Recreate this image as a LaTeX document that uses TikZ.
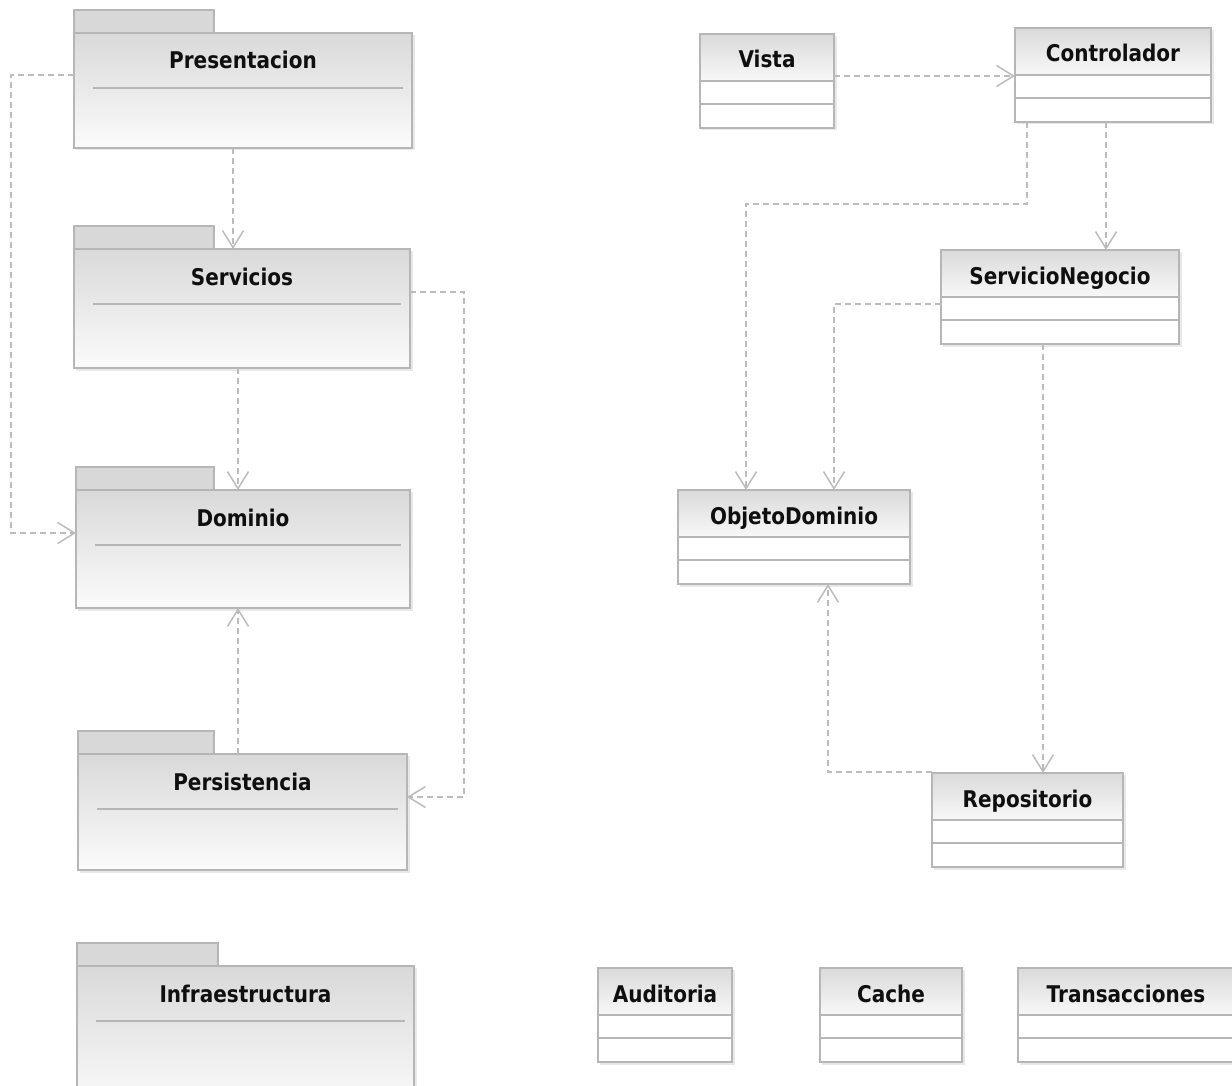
\documentclass[tikz,border=0pt]{standalone}
\usepackage{fontspec}
\newfontfamily\lblfont{DejaVu Sans}[FakeStretch=0.87]
\usetikzlibrary{arrows.meta,calc}

\definecolor{edgegray}{RGB}{182,182,182}
\definecolor{depgray}{RGB}{188,188,188}
\definecolor{tabgray}{RGB}{216,216,216}
\definecolor{bodytop}{RGB}{217,217,217}
\definecolor{bodybot}{RGB}{251,251,251}
\definecolor{hdtop}{RGB}{218,218,218}
\definecolor{hdbot}{RGB}{248,248,248}
\definecolor{shadowgray}{RGB}{232,232,232}
\definecolor{inkblack}{RGB}{15,15,15}

\tikzset{
  boxline/.style={draw=edgegray, line width=1.6pt},
  pkgbody/.style={rectangle, boxline, top color=bodytop, bottom color=bodybot,
                  inner sep=0pt, outer sep=0pt},
  clsbox/.style={rectangle, boxline, fill=white, inner sep=0pt, outer sep=0pt},
  sepline/.style={draw=edgegray, line width=1.6pt},
  lbl/.style={font=\lblfont\bfseries\fontsize{23}{27}\selectfont, text=inkblack,
              inner sep=0pt, anchor=base},
  dep/.style={draw=depgray, line width=1.5pt, dash pattern=on 6pt off 4pt,
              -{Straight Barb[length=17pt,width=21pt]}},
}

% package: name, left, body top, right, bottom, tab right, label
\newcommand\umlpkg[7]{%
  \fill[shadowgray] (#2+2,#3+2) rectangle (#4+2.5,#5+2.5);
  \draw[boxline, fill=tabgray] (#2,#3-23) rectangle (#6,#3);
  \node[pkgbody, anchor=north west, minimum width={(#4-#2)*1pt},
        minimum height={(#5-#3)*1pt}] (#1) at (#2,#3) {};
  \draw[sepline] (#2+19,#3+55) -- (#4-9,#3+55);
  \node[lbl] (#1-lbl) at ({(#2+#4)/2},#3+36) {#7};
}

% class: name, left, top, right, bottom, label
\newcommand\umlclass[6]{%
  \fill[shadowgray] (#2+2,#3+2) rectangle (#4+2.5,#5+2.5);
  \node[clsbox, anchor=north west, minimum width={(#4-#2)*1pt},
        minimum height={(#5-#3)*1pt}] (#1) at (#2,#3) {};
  \shade[top color=hdtop, bottom color=hdbot] (#2,#3) rectangle (#4,#3+47);
  \draw[boxline] (#1.north west) rectangle (#1.south east);
  \draw[boxline] (#2,#3+47) -- (#4,#3+47) (#2,#3+70) -- (#4,#3+70);
  \node[lbl] (#1-lbl) at ({(#2+#4)/2},#3+34) {#6};
}

\begin{document}
\begin{tikzpicture}[x=1pt, y=-1pt]
\useasboundingbox (0,0) rectangle (1232,1086);
\clip (0,0) rectangle (1232,1086);
\fill[white] (0,0) rectangle (1232,1086);

% layered packages
\umlpkg{pres}{74}{33}{412}{148}{214}{Presentacion}
\umlpkg{serv}{74}{249}{410}{368}{214}{Servicios}
\umlpkg{dom}{76}{490}{410}{608}{214}{Dominio}
\umlpkg{pers}{78}{754}{407}{870}{214}{Persistencia}
\umlpkg{infra}{77}{966}{414}{1110}{218}{Infraestructura}

% classes
\umlclass{vista}{700}{34}{834}{128}{Vista}
\umlclass{ctrl}{1015}{28}{1211}{122}{Controlador}
\umlclass{sn}{941}{250}{1179}{344}{ServicioNegocio}
\umlclass{obj}{678}{490}{910}{584}{ObjetoDominio}
\umlclass{repo}{932}{773}{1123}{867}{Repositorio}
\umlclass{aud}{598}{968}{732}{1062}{Auditoria}
\umlclass{cache}{820}{968}{962}{1062}{Cache}
\umlclass{trans}{1018}{968}{1234}{1062}{Transacciones}

% package dependencies
\draw[dep] ($(pres.north west)+(0,42)$) -| ($(dom.north west)+(-65,43)$)
           -- ($(dom.north west)+(0,43)$);
\draw[dep] ($(pres.south west)+(159,0)$) -- ($(serv.north west)+(159,0)$);
\draw[dep] ($(serv.south west)+(164,0)$) -- ($(dom.north west)+(162,0)$);
\draw[dep] ($(serv.north east)+(0,43)$) -| ($(pers.north east)+(57,43)$)
           -- ($(pers.north east)+(0,43)$);
\draw[dep] ($(pers.north west)+(160,0)$) -- ($(dom.south west)+(162,0)$);

% class dependencies
\draw[dep] ($(vista.north east)+(0,42)$) -- ($(ctrl.north west)+(0,48)$);
\draw[dep] ($(ctrl.south west)+(12,0)$) -- ($(ctrl.south west)+(12,82)$)
           -| ($(obj.north west)+(68,0)$);
\draw[dep] ($(ctrl.south west)+(91,0)$) -- ($(sn.north west)+(165,0)$);
\draw[dep] ($(sn.north west)+(0,54)$) -| ($(obj.north west)+(156,0)$);
\draw[dep] ($(sn.south west)+(102,0)$) -- ($(repo.north west)+(111,0)$);
\draw[dep] ($(repo.north west)+(0,-1)$) -| ($(obj.south west)+(150,0)$);
\end{tikzpicture}
\end{document}
